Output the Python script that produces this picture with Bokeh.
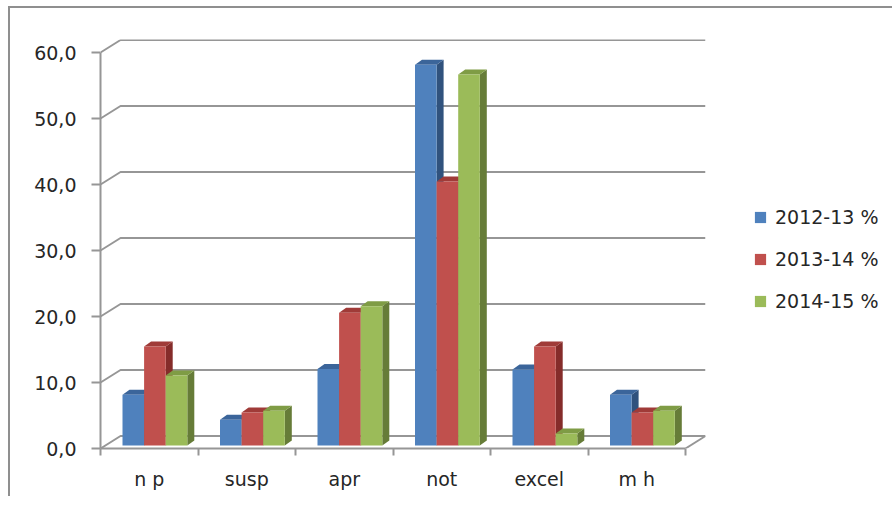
from bokeh.plotting import figure
from bokeh.models import Range1d, LinearAxis, FixedTicker, Legend, LegendItem
from bokeh.embed import file_html
from bokeh.resources import INLINE

categories = ["n p", "susp", "apr", "not", "excel", "m h"]
series_names = ["2012-13 %", "2013-14 %", "2014-15 %"]
values_2012 = [7.7, 3.9, 11.6, 57.7, 11.5, 7.7]
values_2013 = [15.0, 5.0, 20.1, 40.0, 15.0, 5.0]
values_2014 = [10.6, 5.25, 21.1, 56.2, 1.8, 5.25]
y_ticks = [0, 10, 20, 30, 40, 50, 60]
y_tick_labels = ["0,0", "10,0", "20,0", "30,0", "40,0", "50,0", "60,0"]

front_cols = ["#4f81bd", "#c0504d", "#9bbb59"]
side_cols = ["#30527d", "#852c2a", "#667c38"]
top_cols = ["#3b659a", "#a03b38", "#7f9c45"]
grid_col = "#969696"
text_col = "#262626"
font = "DejaVu Sans"

PX_X, PX_Y = 97.5, 6.6            # pixels per category / per value unit
DX, DY = 20 / PX_X, 12.5 / PX_Y   # wall depth
BX, BY = 7 / PX_X, 5 / PX_Y       # bar depth
BASE = 3 / PX_Y                   # bars stand slightly inside the floor
BAR_W = 21.6 / PX_X
BAR_X0 = 22 / PX_X
N = len(categories)

p = figure(width=874, height=488, frame_width=605, frame_height=409,
           output_backend="svg", toolbar_location=None,
           x_range=Range1d(0, 605 / PX_X), y_range=Range1d(0, 409 / PX_Y),
           x_axis_type=None, y_axis_type=None,
           min_border_left=90, min_border_right=0,
           min_border_top=31, min_border_bottom=48,
           margin=(6, 0, 0, 8),
           styles={"border-left": "2px solid #8f8f8f", "border-top": "2px solid #8f8f8f"})
p.grid.visible = False
p.outline_line_color = None
p.background_fill_color = "white"

# back wall and floor
wall_xs, wall_ys = [], []
for t in y_ticks:
    wall_xs.append([0, DX, N + DX])
    wall_ys.append([t, t + DY, t + DY])
wall_xs.append([N, N + DX])
wall_ys.append([0, DY])
p.multi_line(wall_xs, wall_ys, line_color=grid_col, line_width=2)

# bars
legend_items = []
all_series = [values_2012, values_2013, values_2014]
for s, vals in enumerate(all_series):
    lefts = [i + BAR_X0 + s * BAR_W for i in range(N)]
    rights = [l + BAR_W for l in lefts]
    tops = [BASE + v for v in vals]
    p.patches([[r, r + BX, r + BX, r] for r in rights],
              [[BASE, BASE + BY, t + BY, t] for t in tops],
              fill_color=side_cols[s], line_color=None)
    p.patches([[l, l + BX, r + BX, r] for l, r in zip(lefts, rights)],
              [[t, t + BY, t + BY, t] for t in tops],
              fill_color=top_cols[s], line_color=None)
    front = p.quad(left=lefts, right=rights, bottom=BASE, top=tops,
                   fill_color=front_cols[s], line_color=None)
    legend_items.append(LegendItem(label=series_names[s], renderers=[front]))

# axes
yaxis = LinearAxis(ticker=FixedTicker(ticks=y_ticks), bounds=(0, 60))
yaxis.major_label_overrides = dict(zip(y_ticks, y_tick_labels))
yaxis.axis_line_color = grid_col
yaxis.axis_line_width = 2
yaxis.major_tick_line_color = grid_col
yaxis.major_tick_line_width = 2
yaxis.major_tick_in = 0
yaxis.major_tick_out = 9
yaxis.minor_tick_line_color = None
yaxis.major_label_standoff = 15
yaxis.major_label_text_font = font
yaxis.major_label_text_font_size = "19px"
yaxis.major_label_text_color = text_col
p.add_layout(yaxis, "left")

x_centres = [i + 0.5 for i in range(N)]
xaxis = LinearAxis(ticker=FixedTicker(ticks=x_centres, minor_ticks=list(range(N + 1))),
                   bounds=(0, N))
xaxis.major_label_overrides = dict(zip(x_centres, categories))
xaxis.axis_line_color = grid_col
xaxis.axis_line_width = 2
xaxis.major_tick_line_color = None
xaxis.major_tick_in = 0
xaxis.major_tick_out = 0
xaxis.minor_tick_line_color = grid_col
xaxis.minor_tick_line_width = 2
xaxis.minor_tick_in = 0
xaxis.minor_tick_out = 7
xaxis.major_label_standoff = 12
xaxis.major_label_text_font = font
xaxis.major_label_text_font_size = "19px"
xaxis.major_label_text_color = text_col
p.add_layout(xaxis, "below")

legend = Legend(items=legend_items, location=(48, 136), orientation="vertical",
                border_line_color=None, background_fill_alpha=0,
                padding=0, margin=0, spacing=20, glyph_width=14, glyph_height=14,
                label_standoff=8, label_text_font=font,
                label_text_font_size="19px", label_text_color=text_col,
                label_height=22)
p.add_layout(legend, "right")

open("out.html", "w").write(file_html(p, INLINE))
